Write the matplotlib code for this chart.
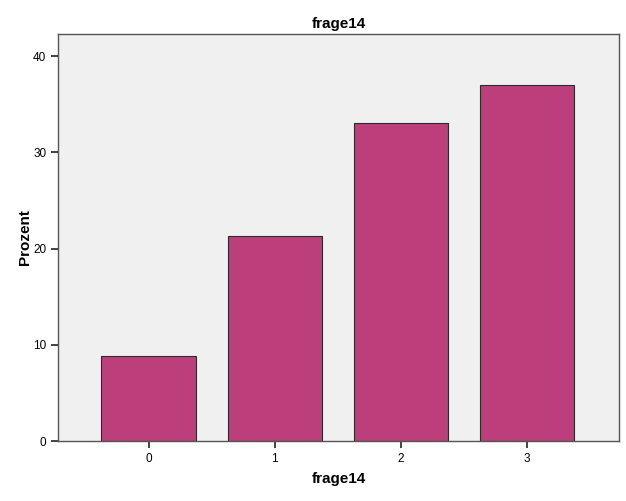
import matplotlib
matplotlib.use("Agg")
import matplotlib.pyplot as plt

categories = ["0", "1", "2", "3"]
percent = [8.8, 21.3, 33.0, 37.0]
yticks = [0, 10, 20, 30, 40]

plt.rcParams['font.family'] = ['Liberation Sans', 'DejaVu Sans']
fig = plt.figure(figsize=(6.26, 5.01), dpi=100)
ax = fig.add_axes([58/626, 1-441/501, 561/626, 407/501])
ax.set_facecolor("#F0F0F0")
x = list(range(len(categories)))
ax.bar(x, percent, width=0.75, color="#BC3F7C", edgecolor="#2a2a2a", linewidth=0.8)
ax.set_xlim(-0.72, 3.73)
ax.set_ylim(0, 42.3)
ax.set_xticks(x)
ax.set_xticklabels(categories, fontsize=8.5)
ax.set_yticks(yticks)
ax.set_yticklabels([str(t) for t in yticks], fontsize=8.5)
for s in ax.spines.values():
    s.set_color("#555555")
    s.set_linewidth(1.0)
ax.tick_params(axis='both', direction='out', length=5, width=1.2, color="#222222")
ax.set_xlabel("frage14", fontsize=11, fontweight='bold', labelpad=5)
ax.set_ylabel("Prozent", fontsize=11, fontweight='bold', labelpad=1)
ax.set_title("frage14", fontsize=11, fontweight='bold', pad=4)
fig.savefig("out.png", dpi=100)
